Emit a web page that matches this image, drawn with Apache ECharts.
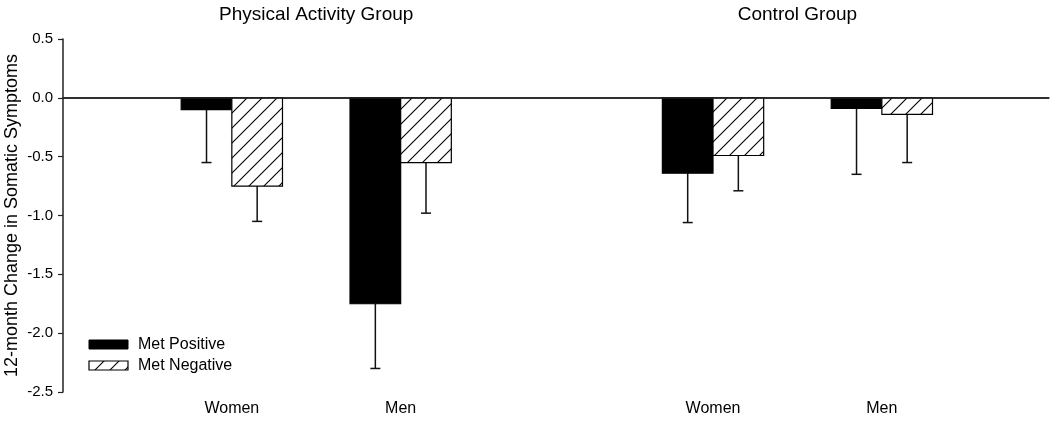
<!DOCTYPE html>
<html>
<head>
<meta charset="utf-8">
<script src="https://cdn.jsdelivr.net/npm/echarts@6/dist/echarts.min.js"></script>
<style>
  html, body { margin: 0; padding: 0; background: #fff; }
  #chart { width: 1050px; height: 422px; }
</style>
</head>
<body>
<div id="chart"></div>
<script>
// ---- data ----
const categories = ['Women', 'Men', 'Women', 'Men'];
const groupTitles = ['Physical Activity Group', 'Control Group'];
const catPos = [1, 2, 3.85, 4.85];          // category centres on the x scale
const seriesNames = ['Met Positive', 'Met Negative'];
const posMean = [-0.10, -1.75, -0.64, -0.09];
const posLow  = [-0.55, -2.30, -1.06, -0.65];
const negMean = [-0.75, -0.55, -0.49, -0.14];
const negLow  = [-1.05, -0.98, -0.79, -0.55];
const yMin = -2.5, yMax = 0.5, yStep = 0.5;
const xMin = 0, xMax = 5.84;

// ---- style constants ----
const BAR_W = 0.3;     // in x-axis units
const CAP = 5;         // px half-width of error cap
const FONT = '"Liberation Sans", Arial, sans-serif';

function makeHatch() {
  const s = 15;
  const c = document.createElement('canvas');
  c.width = s; c.height = s;
  const g = c.getContext('2d');
  g.fillStyle = '#fff';
  g.fillRect(0, 0, s, s);
  g.strokeStyle = '#000';
  g.lineWidth = 1.1;
  g.beginPath();
  g.moveTo(0, s); g.lineTo(s, 0);
  g.moveTo(-2, 2); g.lineTo(2, -2);
  g.moveTo(s - 2, s + 2); g.lineTo(s + 2, s - 2);
  g.stroke();
  return c;
}
const hatch = { image: makeHatch(), repeat: 'repeat' };

function barRenderer(side, fillStyle) {
  return function (params, api) {
    const x = api.value(0), m = api.value(1), lo = api.value(2);
    const xa = side < 0 ? x - BAR_W : x;
    const xb = side < 0 ? x : x + BAR_W;
    const p0 = api.coord([xa, 0]);
    const p1 = api.coord([xb, m]);
    const pc = api.coord([(xa + xb) / 2, m]);
    const pl = api.coord([(xa + xb) / 2, lo]);
    return {
      type: 'group',
      children: [
        { type: 'line', shape: { x1: pc[0], y1: pc[1], x2: pl[0], y2: pl[1] },
          style: { stroke: '#111', lineWidth: 1.5 } },
        { type: 'line', shape: { x1: pl[0] - CAP, y1: pl[1], x2: pl[0] + CAP, y2: pl[1] },
          style: { stroke: '#111', lineWidth: 1.5 } },
        { type: 'rect', shape: { x: p0[0], y: p0[1], width: p1[0] - p0[0], height: p1[1] - p0[1] },
          style: { fill: fillStyle, stroke: '#000', lineWidth: 1.2 } }
      ]
    };
  };
}

const chart = echarts.init(document.getElementById('chart'), null, { renderer: 'canvas' });

const posData = catPos.map((p, i) => [p, posMean[i], posLow[i]]);
const negData = catPos.map((p, i) => [p, negMean[i], negLow[i]]);
// group title anchors: midpoint of each group's two categories
const titleData = [[(catPos[0] + catPos[1]) / 2, yMax, 0], [(catPos[2] + catPos[3]) / 2, yMax, 1]];

chart.setOption({
  animation: false,
  backgroundColor: '#fff',
  textStyle: { fontFamily: FONT, color: '#000' },
  grid: { left: 63, right: 1, top: 39, bottom: 30, outerBoundsMode: 'none', containLabel: false },
  xAxis: {
    type: 'value', min: xMin, max: xMax,
    splitLine: { show: false },
    axisLine: { show: true, lineStyle: { color: '#222', width: 1.5 } },
    axisTick: { show: true, length: 5, lineStyle: { color: '#222', width: 1.2 }, customValues: catPos },
    axisLabel: {
      customValues: catPos, margin: 9, fontSize: 16, color: '#000', fontFamily: FONT,
      formatter: v => { const i = catPos.findIndex(p => Math.abs(p - v) < 1e-6); return i >= 0 ? categories[i] : ''; }
    }
  },
  yAxis: {
    type: 'value', min: yMin, max: yMax, interval: yStep,
    name: '12-month Change in Somatic Symptoms',
    nameLocation: 'middle', nameGap: 42, nameRotate: 90, nameMoveOverlap: false,
    nameTextStyle: { fontSize: 18, color: '#000', fontFamily: FONT },
    splitLine: { show: false },
    axisLine: { show: true, lineStyle: { color: '#222', width: 1.5 } },
    axisTick: { show: true, length: 5, lineStyle: { color: '#222', width: 1.2 } },
    axisLabel: { fontSize: 15, color: '#000', margin: 10, fontFamily: FONT, formatter: v => v.toFixed(1) }
  },
  series: [
    {
      name: seriesNames[0], type: 'custom', data: posData,
      encode: { x: 0, y: [1, 2] },
      renderItem: barRenderer(-1, '#000'),
      markLine: {
        silent: true, symbol: 'none', label: { show: false },
        lineStyle: { color: '#222', width: 1.5, type: 'solid' },
        data: [{ yAxis: 0 }]
      },
      z: 3
    },
    {
      name: seriesNames[1], type: 'custom', data: negData,
      encode: { x: 0, y: [1, 2] },
      renderItem: barRenderer(1, hatch),
      z: 3
    },
    {
      name: 'titles', type: 'custom', data: titleData,
      encode: { x: 0, y: 1 },
      clip: false, silent: true,
      renderItem: function (params, api) {
        const p = api.coord([api.value(0), api.value(1)]);
        return {
          type: 'text',
          style: { x: p[0], y: 15, text: groupTitles[api.value(2)], font: '19px ' + FONT,
                   fill: '#000', align: 'center', verticalAlign: 'middle' }
        };
      }
    }
  ],
  graphic: [
    { type: 'rect', shape: { x: 89, y: 340, width: 39, height: 9 },
      style: { fill: '#000', stroke: '#000', lineWidth: 1 } },
    { type: 'rect', shape: { x: 89, y: 361, width: 39, height: 9 },
      style: { fill: hatch, stroke: '#000', lineWidth: 1.2 } },
    { type: 'text', x: 138, y: 345,
      style: { text: seriesNames[0], font: '16px ' + FONT, fill: '#000', verticalAlign: 'middle' } },
    { type: 'text', x: 138, y: 366,
      style: { text: seriesNames[1], font: '16px ' + FONT, fill: '#000', verticalAlign: 'middle' } }
  ]
});
</script>
</body>
</html>
